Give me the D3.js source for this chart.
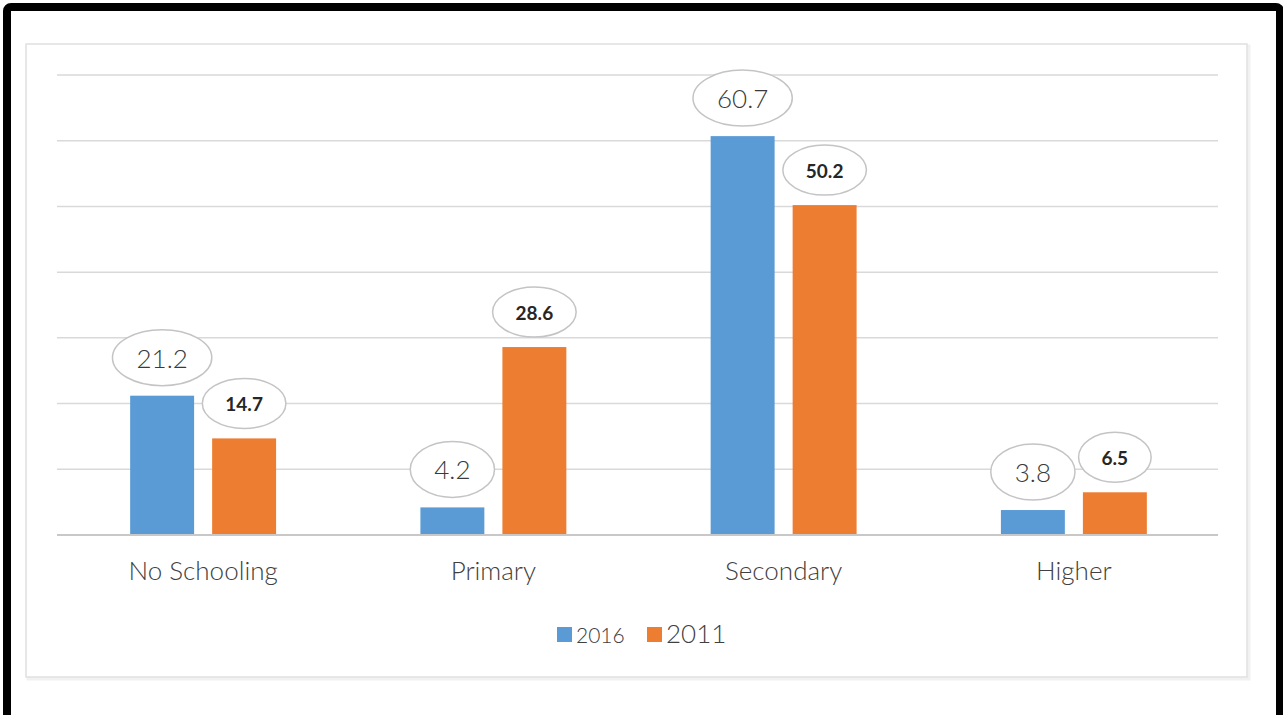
<!DOCTYPE html>
<html>
<head>
<meta charset="utf-8">
<script src="https://cdn.jsdelivr.net/npm/d3@7"></script>
<style>
  html, body { margin: 0; padding: 0; background: #fff; }
  svg { display: block; }
</style>
</head>
<body>
<svg id="chart" width="1283" height="715"></svg>
<script>
// Education level shares, two survey years
const categories = ["No Schooling", "Primary", "Secondary", "Higher"];
const seriesNames = ["2016", "2011"];
const values2016 = [21.2, 4.2, 60.7, 3.8];
const values2011 = [14.7, 28.6, 50.2, 6.5];
const gridTicks = [0, 10, 20, 30, 40, 50, 60, 70];

const colors = { "2016": "#5B9BD5", "2011": "#ED7D31" };
const FONT = "Lato, 'Open Sans', sans-serif";

const svg = d3.select("#chart");

// outer black frame (runs off the bottom edge)
svg.append("rect")
  .attr("x", 7).attr("y", 7)
  .attr("width", 1273).attr("height", 780)
  .attr("rx", 4)
  .attr("fill", "#fff")
  .attr("stroke", "#000")
  .attr("stroke-width", 8);

// light chart-area frame with a soft edge
svg.append("rect")
  .attr("x", 28).attr("y", 46)
  .attr("width", 1221).attr("height", 633)
  .attr("fill", "none")
  .attr("stroke", "#f1f1f1")
  .attr("stroke-width", 3);
svg.append("rect")
  .attr("x", 26).attr("y", 44)
  .attr("width", 1221).attr("height", 633)
  .attr("fill", "#fff")
  .attr("stroke", "#e0e0e0")
  .attr("stroke-width", 1.5);

const plot = { left: 58, right: 1219, top: 75, bottom: 535 };

const y = d3.scaleLinear().domain([0, 70]).range([plot.bottom, plot.top]);
const x0 = d3.scaleBand().domain(categories).range([plot.left, plot.right]).padding(0);
const x1 = d3.scaleBand().domain(seriesNames).range([0, x0.bandwidth()])
  .paddingInner(0.22).paddingOuter(0.88);

// horizontal gridlines
svg.append("g")
  .selectAll("line")
  .data(gridTicks.filter(t => t > 0))
  .join("line")
  .attr("x1", plot.left - 1).attr("x2", plot.right - 1)
  .attr("y1", d => y(d)).attr("y2", d => y(d))
  .attr("stroke", "#d9d9d9")
  .attr("stroke-width", 1.5);

const rows = categories.map((c, i) => ({
  category: c,
  items: [
    { series: "2016", value: values2016[i] },
    { series: "2011", value: values2011[i] }
  ]
}));

const groups = svg.append("g")
  .selectAll("g")
  .data(rows)
  .join("g")
  .attr("transform", d => `translate(${x0(d.category)},0)`);

groups.selectAll("rect")
  .data(d => d.items)
  .join("rect")
  .attr("x", d => x1(d.series))
  .attr("y", d => y(d.value))
  .attr("width", x1.bandwidth())
  .attr("height", d => y(0) - y(d.value))
  .attr("fill", d => colors[d.series]);

// baseline
svg.append("line")
  .attr("x1", plot.left - 1).attr("x2", plot.right - 1)
  .attr("y1", y(0)).attr("y2", y(0))
  .attr("stroke", "#c8c8c8")
  .attr("stroke-width", 2);

// elliptical value callouts
const labelStyle = {
  "2016": { size: 26, weight: 300, fill: "#3a3a3a", pad: 24, ry: 28 },
  "2011": { size: 19, weight: 700, fill: "#262626", pad: 23, ry: 25 }
};

groups.each(function (row) {
  const g = d3.select(this);
  row.items.forEach(item => {
    const st = labelStyle[item.series];
    const cx = x1(item.series) + x1.bandwidth() / 2;
    const cy = y(item.value) - 10 - st.ry;
    const lab = g.append("g");
    const ell = lab.append("ellipse")
      .attr("cx", cx).attr("cy", cy)
      .attr("ry", st.ry)
      .attr("fill", "#fff")
      .attr("stroke", "#c4c4c4")
      .attr("stroke-width", 1.5);
    const t = lab.append("text")
      .attr("x", cx).attr("y", cy)
      .attr("text-anchor", "middle")
      .attr("dominant-baseline", "central")
      .attr("font-family", FONT)
      .attr("font-size", st.size)
      .attr("font-weight", st.weight)
      .attr("fill", st.fill)
      .text(item.value.toFixed(1));
    const w = t.node().getComputedTextLength();
    ell.attr("rx", w / 2 + st.pad);
  });
});

// category axis labels
svg.append("g")
  .attr("transform", `translate(0,${plot.bottom})`)
  .call(d3.axisBottom(x0).tickSize(0).tickPadding(27))
  .call(g => g.select(".domain").remove())
  .selectAll("text")
  .attr("font-family", FONT)
  .attr("font-size", 26)
  .attr("font-weight", 300)
  .attr("fill", "#404040");

// legend
const legend = svg.append("g");
const legendItems = [
  { name: seriesNames[0], x: 557, size: 21 },
  { name: seriesNames[1], x: 647, size: 26 }
];
legendItems.forEach(li => {
  legend.append("rect")
    .attr("x", li.x).attr("y", 627)
    .attr("width", 15).attr("height", 15)
    .attr("fill", colors[li.name]);
  legend.append("text")
    .attr("x", li.x + 19).attr("y", 643)
    .attr("font-family", FONT)
    .attr("font-size", li.size)
    .attr("font-weight", 300)
    .attr("fill", "#404040")
    .text(li.name);
});
</script>
</body>
</html>
